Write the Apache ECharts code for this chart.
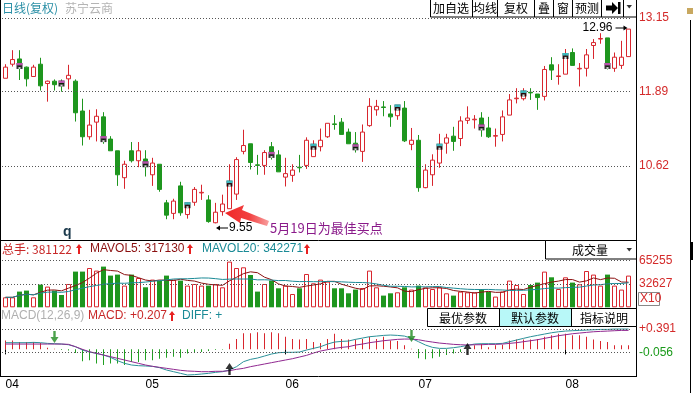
<!DOCTYPE html>
<html><head><meta charset="utf-8">
<script src="https://cdn.jsdelivr.net/npm/echarts@6/dist/echarts.min.js"></script>
<style>html,body{margin:0;padding:0;background:#fff;overflow:hidden}#c{width:693px;height:393px}</style>
</head><body><div id="c"></div>
<script>
// ---------- data ----------
const opens = [12.12,12.36,12.45,12.31,12.15,12.36,12.03,12.07,12.04,12.11,
12.07,11.56,11.12,11.37,11.46,11.08,10.88,10.42,10.88,10.71,
10.74,10.47,10.65,9.99,9.81,10.28,9.79,10.00,10.16,10.04,
9.65,9.84,9.89,10.14,10.87,11.00,10.64,10.63,10.95,10.81,
10.43,10.46,10.60,10.63,10.78,10.95,11.12,11.34,11.37,11.20,
11.01,10.87,11.31,11.58,11.63,11.51,11.48,11.61,10.99,11.06,
10.25,10.47,10.67,11.01,11.13,11.09,11.40,11.41,11.44,11.27,
11.13,11.16,11.49,11.77,11.77,11.88,11.85,11.81,12.35,12.15,
12.19,12.56,12.28,12.29,12.68,12.79,12.81,12.29,12.34,12.49];
const closes = [12.31,12.44,12.33,12.11,12.31,11.99,12.07,12.01,12.03,12.17,
11.53,11.12,11.32,11.47,11.08,10.88,10.47,10.65,10.71,10.88,
10.65,10.67,10.22,9.78,10.02,9.82,9.95,10.22,10.17,9.67,
9.83,9.97,10.32,10.73,10.97,10.68,10.63,10.85,10.81,10.52,
10.49,10.55,10.59,11.06,10.95,11.06,11.35,11.33,11.16,11.00,
10.94,11.20,11.64,11.64,11.62,11.46,11.62,11.05,11.06,10.25,
10.55,10.72,10.95,11.10,11.04,11.39,11.44,11.42,11.28,11.12,
11.14,11.46,11.75,11.78,11.86,11.87,11.79,12.27,12.26,12.16,
12.50,12.34,12.29,12.52,12.73,12.80,12.33,12.48,12.48,12.96];
const lows = [12.12,12.32,12.09,11.98,12.15,11.91,11.72,11.91,11.89,11.93,
11.38,10.97,11.07,11.04,11.00,10.88,10.28,10.23,10.68,10.60,
10.44,10.28,10.18,9.71,9.71,9.77,9.72,9.94,10.04,9.65,
9.64,9.77,9.89,10.04,10.82,10.56,10.47,10.47,10.73,10.52,
10.27,10.35,10.51,10.57,10.78,10.87,11.10,11.24,11.16,11.00,
10.85,10.69,11.29,11.48,11.47,11.29,11.41,11.03,10.89,10.18,
10.24,10.28,10.59,10.83,10.88,10.96,11.34,11.26,11.12,11.10,
10.95,11.04,11.49,11.69,11.74,11.75,11.58,11.74,12.09,12.01,
12.19,12.34,11.98,12.15,12.45,12.71,12.27,12.23,12.28,12.49];
const highs = [12.36,12.60,12.60,12.32,12.35,12.47,12.08,12.10,12.10,12.35,
12.10,11.77,11.58,11.59,11.54,11.13,10.88,10.71,11.03,11.03,
10.89,10.76,10.65,10.04,10.06,10.35,9.99,10.26,10.30,10.12,
9.99,10.13,10.65,10.77,11.24,11.00,10.81,10.89,11.03,10.89,
10.76,10.65,10.81,11.11,11.06,11.26,11.35,11.49,11.44,11.26,
11.20,11.33,11.78,11.75,11.73,11.66,11.66,11.73,11.27,11.15,
10.65,10.82,11.17,11.17,11.29,11.47,11.64,11.49,11.54,11.46,
11.26,11.57,11.85,11.95,11.95,11.95,11.85,12.33,12.48,12.36,
12.62,12.63,12.38,12.62,12.79,12.89,12.81,12.56,12.76,12.96];
const volumes = [14000,14000,21980,23380,14000,31790,28990,23380,17220,32630,
49990,49990,55030,51390,56990,44390,45790,30390,45790,41030,
28010,38790,37390,44390,38790,37390,30390,32630,30390,30390,
32630,28010,63990,55030,56010,45230,21980,32630,37390,26610,
30390,18620,26610,46630,33610,38790,35990,26610,26610,19600,
24780,27030,51390,28010,16380,19600,21000,28010,24780,30390,
28010,25630,28010,19600,16380,21980,21000,21000,25630,21980,
14980,21980,37390,31230,18620,31230,34590,49990,42010,25630,
42010,34590,32210,50830,45790,30390,45790,30390,24780,44390];
const diffValues = [0.128,0.128,0.128,0.128,0.134,0.128,0.115,0.109,0.102,0.089,
0.051,-0.013,-0.051,-0.077,-0.109,-0.153,-0.217,-0.268,-0.300,-0.313,
-0.319,-0.326,-0.351,-0.396,-0.428,-0.460,-0.492,-0.485,-0.473,-0.460,
-0.441,-0.428,-0.396,-0.332,-0.236,-0.192,-0.166,-0.128,-0.089,-0.064,
-0.057,-0.057,-0.051,-0.013,0.019,0.051,0.102,0.140,0.153,0.160,
0.192,0.217,0.243,0.255,0.268,0.275,0.268,0.255,0.211,0.147,
0.083,0.038,0.019,0.019,0.032,0.051,0.077,0.102,0.109,0.109,
0.109,0.115,0.147,0.179,0.211,0.243,0.268,0.294,0.319,0.338,
0.351,0.358,0.364,0.370,0.377,0.383,0.383,0.390,0.390,0.390];
const deaValues = [0.102,0.102,0.102,0.102,0.102,0.102,0.102,0.102,0.102,0.096,
0.051,0.000,-0.045,-0.077,-0.109,-0.140,-0.172,-0.204,-0.236,-0.268,
-0.300,-0.326,-0.345,-0.364,-0.383,-0.402,-0.415,-0.421,-0.428,-0.428,
-0.421,-0.421,-0.409,-0.383,-0.364,-0.332,-0.307,-0.281,-0.255,-0.230,
-0.204,-0.179,-0.147,-0.115,-0.070,-0.032,-0.006,0.019,0.038,0.051,
0.083,0.102,0.128,0.147,0.166,0.179,0.192,0.198,0.198,0.185,
0.160,0.140,0.121,0.109,0.096,0.089,0.083,0.089,0.089,0.096,
0.096,0.102,0.115,0.128,0.147,0.166,0.185,0.211,0.236,0.262,
0.281,0.300,0.313,0.326,0.338,0.345,0.351,0.358,0.364,0.364];
const macdValues = [0.172,0.172,0.140,0.140,0.140,0.121,0.030,0.010,-0.010,-0.020,
-0.070,-0.230,-0.210,-0.270,-0.300,-0.270,-0.270,-0.300,-0.240,-0.240,
-0.210,-0.210,-0.180,-0.160,-0.140,-0.160,-0.080,-0.070,-0.050,-0.030,
-0.010,-0.005,0.110,0.200,0.310,0.310,0.330,0.310,0.330,0.310,
0.240,0.200,0.190,0.200,0.140,0.120,0.200,0.300,0.200,0.190,
0.190,0.200,0.240,0.200,0.240,0.170,0.160,0.080,0.010,-0.170,
-0.190,-0.170,-0.140,-0.110,-0.080,-0.050,-0.010,0.080,0.110,0.040,
0.080,0.090,0.170,0.190,0.190,0.190,0.200,0.240,0.270,0.300,
0.300,0.270,0.270,0.240,0.190,0.160,0.140,0.080,0.080,0.080];
const priceTicks = [13.15, 11.89, 10.62];
const volTicks = [65255, 32627];
const macdTicks = [0.391, -0.056];
const monthLabels = ['04','05','06','07','08'];
const monthStart = [0, 20, 40, 59, 80];
const signalBars = [2,8,14,20,26,32,38,44,50,56,62,68,74,80,86];
const crossDownIdx = [7, 58];
const crossDownVal = [0.123, 0.142];
const crossUpIdx = [32, 66];
const crossUpVal = [-0.261, 0.123];
const highMark = 12.96, highMarkIdx = 89;
const lowMark = 9.55, lowMarkIdx = 30;

// ---------- styles ----------
const RED = '#d8262e', GREEN = '#1e961e', LBLRED = '#d42a2a';
const FONT = '"Liberation Sans", "Noto Sans CJK SC", sans-serif';
const CJK = '"Noto Sans CJK SC", "Liberation Sans", sans-serif';
const N = opens.length;
const cats = opens.map((_, i) => 'd' + i);
const isUp = i => closes[i] > opens[i];
const monthOf = i => { const k = monthStart.indexOf(i); return k >= 0 ? monthLabels[k] : ''; };
function ma(arr, n) { return arr.map((_, i) => { const s = arr.slice(Math.max(0, i - n + 1), i + 1); return s.reduce((a, b) => a + b, 0) / s.length; }); }

const candleData = opens.map((o, i) => [o, closes[i], lows[i], highs[i]]);
const volData = volumes.map((v, i) => ({ value: v, itemStyle: isUp(i) ? { color: '#fff', borderColor: RED, borderWidth: 1 } : { color: GREEN, borderColor: GREEN, borderWidth: 0 } }));
const macdData = macdValues.map(v => ({ value: v, itemStyle: { color: v >= 0 ? RED : '#22a022' } }));
const dotted = { color: '#555', type: [1, 2], width: 1 };

const downArrow = 'path://M3.5,0 L6.5,0 L6.5,7 L10,7 L5,14 L0,7 L3.5,7 Z';
const upArrowP = 'path://M5,0 L10,7 L6.5,7 L6.5,14 L3.5,14 L3.5,7 L0,7 Z';
const rightArrow = 'path://M0,2 L8,2 L8,0 L12,2.5 L8,5 L8,3 L0,3 Z';
const leftArrow = 'path://M12,2 L4,2 L4,0 L0,2.5 L4,5 L4,3 L12,3 Z';

function txt(x, y, text, fill, font, align) {
  return { type: 'text', x: x, y: y, silent: true, style: { text: text, fill: fill, font: font, align: align || 'left', verticalAlign: 'middle', textAlign: align || 'left', textVerticalAlign: 'middle' } };
}
function line(x1, y1, x2, y2, c) { return { type: 'line', silent: true, shape: { x1, y1, x2, y2 }, style: { stroke: c || '#000', lineWidth: 1 } }; }
function rect(x, y, w, h, stroke, fill) { return { type: 'rect', silent: true, shape: { x, y, width: w, height: h }, style: { stroke: stroke, fill: fill || 'none', lineWidth: 1 } }; }
function upHead(cx, top, c) { return { type: 'polygon', silent: true, shape: { points: [[cx, top], [cx + 3, top + 4], [cx + 1, top + 4], [cx + 1, top + 10], [cx - 1, top + 10], [cx - 1, top + 4], [cx - 3, top + 4]] }, style: { fill: c } }; }

const graphics = [];
// borders & separators
graphics.push(line(0.5, 0, 0.5, 377));
graphics.push(line(636.5, 0, 636.5, 377));
graphics.push(line(0, 240.5, 637, 240.5));
graphics.push(line(0, 376.5, 637, 376.5));
graphics.push(line(690.5, 20, 690.5, 393));
graphics.push({ type: 'rect', silent: true, shape: { x: 690, y: 242, width: 3, height: 18 }, style: { fill: '#000' } });
graphics.push({ type: 'rect', silent: true, shape: { x: 687, y: 8, width: 6, height: 6 }, style: { fill: '#c8a860' } });
// title
graphics.push(txt(2, 8, '日线(复权)', '#2a8fa6', '12px ' + CJK));
graphics.push(txt(65, 8, '苏宁云商', '#b4b4b4', '12px ' + CJK));
// toolbar
graphics.push(rect(430.5, -0.5, 206, 17.5, '#000', '#fff'));
[472.5, 497.5, 534.5, 553.5, 572.5, 601.5, 623.5].forEach(x => graphics.push(line(x, 0, x, 17)));
[[451, '加自选'], [485, '均线'], [516, '复权'], [544, '叠'], [563, '窗'], [587, '预测']].forEach(([x, t]) => graphics.push(txt(x, 8.5, t, '#000', '12px ' + CJK, 'center')));
graphics.push({ type: 'polygon', silent: true, shape: { points: [[606, 5.5], [612, 5.5], [612, 2], [618, 8], [612, 14], [612, 10.5], [606, 10.5]] }, style: { fill: '#000' } });
graphics.push({ type: 'rect', silent: true, shape: { x: 618, y: 2, width: 2.5, height: 12 }, style: { fill: '#000' } });
graphics.push({ type: 'polygon', silent: true, shape: { points: [[626.5, 5], [632, 5], [629.25, 8.5]] }, style: { fill: '#333' } });
// annotation: big arrow & text
graphics.push({ type: 'polygon', silent: true, shape: { points: [[225, 213], [244, 205], [242, 210], [269, 221], [267, 226], [241, 218], [240, 223]] },
  style: { fill: { type: 'linear', x: 0, y: 0, x2: 1, y2: 0, colorStops: [{ offset: 0, color: '#f02828' }, { offset: 0.55, color: '#f24040' }, { offset: 1, color: '#f8a0a0' }] } } });
graphics.push(txt(270, 228, '5月19日为最佳买点', '#8a1a8a', '13px ' + CJK));
graphics.push(txt(63, 232, 'q', '#1c3a4c', 'bold 14px ' + FONT));
// volume header
graphics.push(txt(2, 249, '总手: 381122', '#c82828', '12px ' + CJK));
graphics.push(upHead(79, 244, '#e82020'));
graphics.push(txt(90, 249, 'MAVOL5: 317130', '#8b1010', '12px ' + FONT));
graphics.push(upHead(190, 244, '#e82020'));
graphics.push(txt(202, 249, 'MAVOL20: 342271', '#1a8a96', '12px ' + FONT));
graphics.push(upHead(307, 244, '#e82020'));
graphics.push(rect(545.5, 240.5, 91, 18.5, '#000', '#fff'));
graphics.push(txt(590, 250, '成交量', '#000', '12px ' + CJK, 'center'));
graphics.push({ type: 'polygon', silent: true, shape: { points: [[626.5, 248], [632, 248], [629.25, 251.5]] }, style: { fill: '#333' } });
graphics.push(rect(638.5, 292.5, 21, 13, '#888'));
graphics.push(txt(640, 299, 'X10', LBLRED, '12px ' + FONT));
// macd header
graphics.push(txt(1, 316, 'MACD(12,26,9)', '#b0b0b0', '12px ' + FONT));
graphics.push(txt(88, 316, 'MACD: +0.207', '#c82828', '12px ' + FONT));
graphics.push(upHead(172, 311, '#e82020'));
graphics.push(txt(182, 316, 'DIFF: +', '#1a8a96', '12px ' + FONT));
graphics.push(rect(427.5, 308.5, 209, 18, '#000', '#fff'));
graphics.push({ type: 'rect', silent: true, shape: { x: 500, y: 309, width: 71.5, height: 17 }, style: { fill: '#b8f8f8' } });
graphics.push(line(499.5, 309, 499.5, 326));
graphics.push(line(571.5, 309, 571.5, 326));
graphics.push(txt(463, 318, '最优参数', '#000', '12px ' + CJK, 'center'));
graphics.push(txt(535, 318, '默认参数', '#000', '12px ' + CJK, 'center'));
graphics.push(txt(604, 318, '指标说明', '#000', '12px ' + CJK, 'center'));

const xBase = { type: 'category', data: cats, boundaryGap: true, axisLine: { show: false }, axisTick: { show: false }, axisLabel: { show: false }, splitLine: { show: false } };

const option = {
  animation: false,
  backgroundColor: '#fff',
  textStyle: { fontFamily: FONT },
  grid: [
    { left: 2, top: 18, width: 630, height: 222 },
    { left: 2, top: 247.3, width: 630, height: 60 },
    { left: 2, top: 323, width: 630, height: 53 }
  ],
  xAxis: [
    Object.assign({ gridIndex: 0 }, xBase),
    Object.assign({ gridIndex: 1 }, xBase),
    Object.assign({}, xBase, { gridIndex: 2,
      axisTick: { show: true, alignWithLabel: true, length: 5, lineStyle: { color: '#000' }, interval: (i) => monthOf(i) !== '' },
      axisLabel: { show: true, interval: (i) => monthOf(i) !== '', formatter: (v, i) => monthOf(i), align: 'left', margin: 3, fontSize: 12, color: '#000', fontFamily: FONT } })
  ],
  yAxis: [
    { gridIndex: 0, min: 9.355, max: 13.15, show: false },
    { gridIndex: 1, min: 0, max: 84018, show: false },
    { gridIndex: 2, min: -0.511, max: 0.506, show: false }
  ],
  series: [
    { type: 'candlestick', xAxisIndex: 0, yAxisIndex: 0, data: candleData, barWidth: 5,
      itemStyle: { color: '#fff', color0: GREEN, borderColor: RED, borderColor0: GREEN, borderWidth: 1 },
      markLine: { silent: true, symbol: ['none', 'none'], lineStyle: dotted,
        label: { show: true, position: 'end', distance: 7, color: LBLRED, fontSize: 12, fontFamily: FONT, formatter: p => p.value.toFixed(2) },
        data: priceTicks.map(v => ({ yAxis: v })) },
      markPoint: { silent: true, data: [
        { coord: [highMarkIdx, highs[highMarkIdx]], value: highMark, symbol: rightArrow, symbolSize: [12, 5], symbolOffset: [-7, -1], itemStyle: { color: '#000' },
          label: { show: true, position: 'left', distance: 3, color: '#000', fontSize: 12, fontFamily: FONT, formatter: p => p.value.toFixed(2) } },
        { coord: [lowMarkIdx, lows[lowMarkIdx]], value: lowMark, symbol: leftArrow, symbolSize: [12, 5], symbolOffset: [6.5, 4.6], itemStyle: { color: '#000' },
          label: { show: true, position: 'right', distance: 1, color: '#000', fontSize: 12, fontFamily: FONT, formatter: p => p.value.toFixed(2) } }
      ] } },
    { type: 'scatter', xAxisIndex: 0, yAxisIndex: 0, silent: true, symbol: 'rect', symbolSize: [6, 6], itemStyle: { color: '#000' },
      data: signalBars.map(i => [i, closes[i]]), z: 5 },
    { type: 'scatter', xAxisIndex: 0, yAxisIndex: 0, silent: true, symbol: 'rect', symbolSize: [6, 2.5], symbolOffset: [0, -1.75],
      data: signalBars.map(i => ({ value: [i, closes[i]], itemStyle: { color: isUp(i) ? '#40d8e0' : '#e060d0' } })), z: 6 },
    { type: 'scatter', xAxisIndex: 0, yAxisIndex: 0, silent: true, symbol: 'rect', symbolSize: [2, 2], symbolOffset: [0, 2],
      data: signalBars.map(i => [i, closes[i]]), itemStyle: { color: '#fff' }, z: 7 },
    { type: 'bar', xAxisIndex: 1, yAxisIndex: 1, data: volData, barWidth: 5,
      markLine: { silent: true, symbol: ['none', 'none'], lineStyle: dotted,
        label: { show: true, position: 'end', distance: 7, color: LBLRED, fontSize: 12, fontFamily: FONT, formatter: p => String(p.value) },
        data: volTicks.map(v => ({ yAxis: v })) } },
    { type: 'line', xAxisIndex: 1, yAxisIndex: 1, data: ma(volumes, 5), symbol: 'none', lineStyle: { color: '#8b1010', width: 1 }, z: 4 },
    { type: 'line', xAxisIndex: 1, yAxisIndex: 1, data: ma(volumes, 20), symbol: 'none', lineStyle: { color: '#1a8a96', width: 1 }, z: 4 },
    { type: 'bar', xAxisIndex: 2, yAxisIndex: 2, data: macdData, barWidth: 1,
      markLine: { silent: true, symbol: ['none', 'none'], lineStyle: dotted,
        label: { show: true, position: 'end', distance: 7, fontSize: 12, fontFamily: FONT },
        data: macdTicks.map(v => ({ yAxis: v, label: { color: v >= 0 ? LBLRED : '#1a9a1a', formatter: (v >= 0 ? '+' : '') + v.toFixed(3) } })) } },
    { type: 'line', xAxisIndex: 2, yAxisIndex: 2, data: diffValues, symbol: 'none', lineStyle: { color: '#2a9098', width: 1 }, z: 4 },
    { type: 'line', xAxisIndex: 2, yAxisIndex: 2, data: deaValues, symbol: 'none', lineStyle: { color: '#902890', width: 1 }, z: 4 },
    { type: 'scatter', xAxisIndex: 2, yAxisIndex: 2, silent: true, symbol: downArrow, symbolSize: [8, 12], symbolOffset: [0, -6], itemStyle: { color: '#1e8a1e' },
      data: crossDownIdx.map((i, k) => [i, crossDownVal[k]]), z: 8 },
    { type: 'scatter', xAxisIndex: 2, yAxisIndex: 2, silent: true, symbol: upArrowP, symbolSize: [8, 12], symbolOffset: [0, 6], itemStyle: { color: '#000' },
      data: crossUpIdx.map((i, k) => [i, crossUpVal[k]]), z: 8 }
  ],
  graphic: graphics
};
const chart = echarts.init(document.getElementById('c'));
chart.setOption(option);
</script></body></html>
